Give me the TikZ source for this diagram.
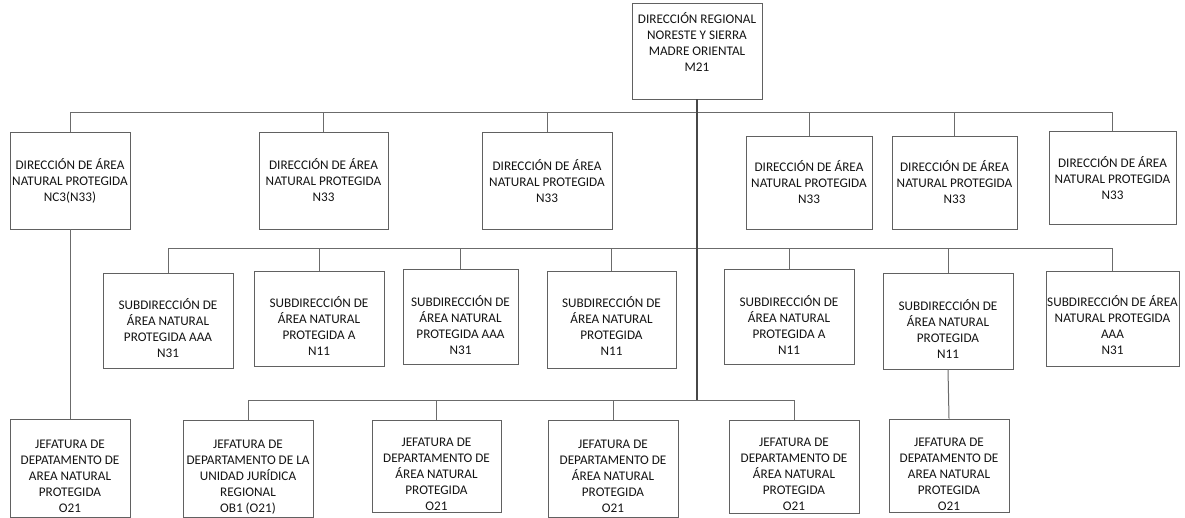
\documentclass[tikz,border=0pt]{standalone}
\usepackage{fontspec}
\setmainfont{Carlito}
\tikzset{
  box/.style={draw=black!62, line width=0.9pt, fill=white, inner sep=0pt},
  txt/.style={anchor=base, align=center, inner sep=0pt, text=black!92,
              font=\fontsize{13.2}{16}\selectfont},
  conn/.style={draw=black!58, line width=1pt},
  trunk/.style={draw=black!72, line width=1.8pt},
}
% name, x1, y1, x2, y2, last-line centre, text
\newcommand\orgbox[7]{%
  \node[box, minimum width={#4-#2}, minimum height={#5-#3}] (#1) at ({(#2+#4)/2},{(#3+#5)/2}) {};
  \node[txt] (#1t) at ({(#2+#4)/2},{#6+4.3}) {#7};}
\begin{document}
\begin{tikzpicture}[x=1pt,y=-1pt]
\useasboundingbox (0,0) rectangle (1185,518);
\fill[white] (0,0) rectangle (1185,518);

% junctions on the trunk
\coordinate (j1) at (697,113);
\coordinate (j2) at (697,249);
\coordinate (j3) at (697,400);

% root
\orgbox{root}{632}{3}{762}{99}{67}{DIRECCIÓN REGIONAL\\NORESTE Y SIERRA\\MADRE ORIENTAL\\M21}

% row 1
\orgbox{a}{10}{132}{130}{229}{197}{DIRECCIÓN DE ÁREA\\NATURAL PROTEGIDA\\NC3(N33)}
\orgbox{b}{259}{132}{388}{229}{197}{DIRECCIÓN DE ÁREA\\NATURAL PROTEGIDA\\N33}
\orgbox{c}{482}{132}{612}{229}{198}{DIRECCIÓN DE ÁREA\\NATURAL PROTEGIDA\\N33}
\orgbox{d}{746}{136}{872}{229}{199}{DIRECCIÓN DE ÁREA\\NATURAL PROTEGIDA\\N33}
\orgbox{e}{892}{136}{1017}{229}{199}{DIRECCIÓN DE ÁREA\\NATURAL PROTEGIDA\\N33}
\orgbox{f}{1049}{131}{1176}{224}{195}{DIRECCIÓN DE ÁREA\\NATURAL PROTEGIDA\\N33}

% row 2
\orgbox{s1}{103}{273}{233}{368}{353}{SUBDIRECCIÓN DE\\ÁREA NATURAL\\PROTEGIDA AAA\\N31}
\orgbox{s2}{254}{271}{384}{366}{351}{SUBDIRECCIÓN DE\\ÁREA NATURAL\\PROTEGIDA A\\N11}
\orgbox{s3}{403}{269}{518}{364}{350}{SUBDIRECCIÓN DE\\ÁREA NATURAL\\PROTEGIDA AAA\\N31}
\orgbox{s4}{547}{271}{676}{368}{351}{SUBDIRECCIÓN DE\\ÁREA NATURAL\\PROTEGIDA\\N11}
\orgbox{s5}{724}{269}{854}{364}{350}{SUBDIRECCIÓN DE\\ÁREA NATURAL\\PROTEGIDA A\\N11}
\orgbox{s6}{883}{273}{1013}{369}{354}{SUBDIRECCIÓN DE\\ÁREA NATURAL\\PROTEGIDA\\N11}
\orgbox{s7}{1046}{271}{1179}{366}{350}{SUBDIRECCIÓN DE ÁREA\\NATURAL PROTEGIDA\\AAA\\N31}

% row 3
\orgbox{j1b}{10}{419}{130}{517}{508}{JEFATURA DE\\DEPATAMENTO DE\\AREA NATURAL\\PROTEGIDA\\O21}
\orgbox{j2b}{183}{420}{313}{517}{508}{JEFATURA DE\\DEPARTAMENTO DE LA\\UNIDAD JURÍDICA\\REGIONAL\\OB1 (O21)}
\orgbox{j3b}{372}{420}{501}{512}{506}{JEFATURA DE\\DEPARTAMENTO DE\\ÁREA NATURAL\\PROTEGIDA\\O21}
\orgbox{j4b}{548}{420}{678}{517}{508}{JEFATURA DE\\DEPARTAMENTO DE\\ÁREA NATURAL\\PROTEGIDA\\O21}
\orgbox{j5b}{729}{420}{859}{513}{506}{JEFATURA DE\\DEPARTAMENTO DE\\ÁREA NATURAL\\PROTEGIDA\\O21}
\orgbox{j6b}{889}{419}{1009}{512}{506}{JEFATURA DE\\DEPATAMENTO DE\\AREA NATURAL\\PROTEGIDA\\O21}

% connectors
\foreach \n in {a,b,c,d,e,f} \draw[conn] (\n.north) |- (j1);
\foreach \n in {s1,s2,s3,s4,s5,s6,s7} \draw[conn] (\n.north) |- (j2);
\foreach \n in {j2b,j3b,j4b,j5b} \draw[conn] (\n.north) |- (j3);
\draw[trunk] (root.south) -- (j3);
\draw[conn] (a.south) -- (j1b.north);
\draw[conn] (s6.south) -- (j6b.north);
\end{tikzpicture}
\end{document}
